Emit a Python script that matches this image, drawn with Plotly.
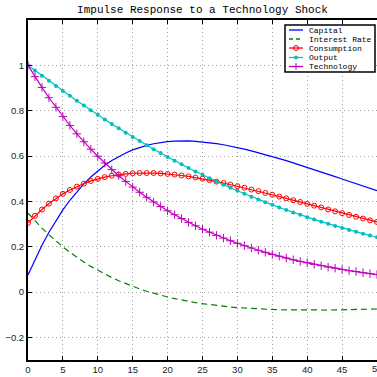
import plotly.graph_objects as go

periods = list(range(51))

capital = [0.075, 0.1436, 0.2063, 0.2634, 0.3152, 0.3622, 0.4047, 0.4429, 0.4772, 0.5077,
           0.5349, 0.5588, 0.5798, 0.5980, 0.6136, 0.6269, 0.6380, 0.6470, 0.6541, 0.6595,
           0.6633, 0.6657, 0.6666, 0.6664, 0.6649, 0.6625, 0.6590, 0.6548, 0.6497, 0.6439,
           0.6374, 0.6304, 0.6229, 0.6149, 0.6065, 0.5977, 0.5886, 0.5793, 0.5697, 0.5599,
           0.5499, 0.5398, 0.5296, 0.5194, 0.5090, 0.4987, 0.4883, 0.4779, 0.4676, 0.4573,
           0.4471]

interest_rate = [0.348, 0.3139, 0.2821, 0.2524, 0.2248, 0.1991, 0.1751, 0.1529, 0.1322, 0.1130,
                 0.0953, 0.0788, 0.0636, 0.0495, 0.0365, 0.0246, 0.0135, 0.0034, -0.0059, -0.0143,
                 -0.0221, -0.0292, -0.0357, -0.0415, -0.0468, -0.0515, -0.0559, -0.0597, -0.0631, -0.0661,
                 -0.0687, -0.0710, -0.0730, -0.0747, -0.0761, -0.0773, -0.0782, -0.0789, -0.0795, -0.0798,
                 -0.0800, -0.0800, -0.0799, -0.0796, -0.0792, -0.0788, -0.0782, -0.0775, -0.0768, -0.0760,
                 -0.0751]

consumption = [0.305, 0.336, 0.364, 0.390, 0.413, 0.433, 0.450, 0.465, 0.478, 0.490,
               0.499, 0.507, 0.513, 0.518, 0.521, 0.524, 0.525, 0.525, 0.525, 0.523,
               0.521, 0.518, 0.514, 0.510, 0.505, 0.500, 0.494, 0.487, 0.481, 0.474,
               0.467, 0.460, 0.452, 0.445, 0.437, 0.429, 0.421, 0.413, 0.405, 0.397,
               0.389, 0.381, 0.373, 0.364, 0.356, 0.348, 0.340, 0.332, 0.324, 0.316,
               0.309]

output = [1.0, 0.977, 0.9542, 0.9317, 0.9093, 0.8873, 0.8655, 0.8440, 0.8228, 0.8020,
          0.7815, 0.7614, 0.7416, 0.7220, 0.7030, 0.6842, 0.6658, 0.6478, 0.6301, 0.6129,
          0.5959, 0.5794, 0.5632, 0.5474, 0.5319, 0.5168, 0.5020, 0.4875, 0.4735, 0.4598,
          0.4464, 0.4334, 0.4206, 0.4082, 0.3962, 0.3844, 0.3730, 0.3618, 0.3509, 0.3404,
          0.3301, 0.3201, 0.3103, 0.3009, 0.2917, 0.2826, 0.2740, 0.2655, 0.2573, 0.2493,
          0.2415]

technology = [1.000, 0.950, 0.9025, 0.857, 0.815, 0.774, 0.735, 0.698, 0.663, 0.630,
              0.599, 0.569, 0.540, 0.513, 0.488, 0.463, 0.440, 0.418, 0.397, 0.377,
              0.358, 0.341, 0.324, 0.307, 0.292, 0.277, 0.264, 0.250, 0.238, 0.226,
              0.215, 0.204, 0.194, 0.184, 0.175, 0.166, 0.158, 0.150, 0.142, 0.135,
              0.129, 0.122, 0.116, 0.110, 0.105, 0.099, 0.094, 0.090, 0.085, 0.081,
              0.077]

x_ticks = list(range(0, 51, 5))
y_ticks = [-0.2, 0, 0.2, 0.4, 0.6, 0.8, 1]
y_tick_labels = ["\u22120.2", "0", "0.2", "0.4", "0.6", "0.8", "1"]

series_names = ["Capital", "Interest Rate", "Consumption", "Output", "Technology"]
BLUE = "#0000ff"
GREEN = "#008000"
RED = "#ff0000"
CYAN = "#00bfbf"
MAGENTA = "#bf00bf"

W, H = 377, 377
ML, MR, MT, MB = 28, 0, 20, 17
PW, PH = W - ML - MR, H - MT - MB
TICK_FONT = dict(family="Liberation Sans, Arial, sans-serif", size=9.5, color="#222222")


def px(x):
    return (x - ML) / PW


def py(y):
    return (H - MB - y) / PH


fig = go.Figure()
fig.add_trace(go.Scatter(x=periods, y=capital, mode="lines", name=series_names[0],
                         line=dict(color=BLUE, width=1.2)))
fig.add_trace(go.Scatter(x=periods, y=interest_rate, mode="lines", name=series_names[1],
                         line=dict(color=GREEN, width=1.2, dash="6px,4px")))
fig.add_trace(go.Scatter(x=periods, y=consumption, mode="lines+markers", name=series_names[2],
                         line=dict(color=RED, width=1.2),
                         marker=dict(symbol="circle-open", size=5, color=RED, line=dict(width=1, color=RED))))
fig.add_trace(go.Scatter(x=periods, y=output, mode="lines+markers", name=series_names[3],
                         line=dict(color=CYAN, width=1.2),
                         marker=dict(symbol="circle", size=4, color=CYAN)))
fig.add_trace(go.Scatter(x=periods, y=technology, mode="lines+markers", name=series_names[4],
                         line=dict(color=MAGENTA, width=1.2),
                         marker=dict(symbol="cross-thin-open", size=6, color=MAGENTA,
                                     line=dict(width=1, color=MAGENTA))))

# Manual legend (MATLAB style)
shapes = [dict(type="rect", xref="paper", yref="paper", x0=px(285), x1=px(375), y0=py(72), y1=py(25),
               line=dict(color="black", width=1.5), fillcolor="white", layer="above")]
annotations = []
rows = [30, 39, 48, 57.5, 66.5]
colors = [BLUE, GREEN, RED, CYAN, MAGENTA]
for i, (name, c, ry) in enumerate(zip(series_names, colors, rows)):
    shapes.append(dict(type="line", xref="paper", yref="paper", x0=px(289), x1=px(303), y0=py(ry), y1=py(ry),
                       line=dict(color=c, width=1.3, dash="4px,3px" if i == 1 else "solid"), layer="above"))
    if i == 2:
        shapes.append(dict(type="circle", xref="paper", yref="paper", x0=px(293.5), x1=px(298.5),
                           y0=py(ry + 2.5), y1=py(ry - 2.5), line=dict(color=c, width=1), layer="above"))
    if i == 3:
        shapes.append(dict(type="circle", xref="paper", yref="paper", x0=px(294.5), x1=px(297.5),
                           y0=py(ry + 1.5), y1=py(ry - 1.5), line=dict(color=c, width=1), fillcolor=c,
                           layer="above"))
    if i == 4:
        shapes.append(dict(type="line", xref="paper", yref="paper", x0=px(296), x1=px(296),
                           y0=py(ry + 3.5), y1=py(ry - 3.5), line=dict(color=c, width=1), layer="above"))
    annotations.append(dict(xref="paper", yref="paper", x=px(307), y=py(ry), text=name, showarrow=False,
                            xanchor="left", yanchor="middle",
                            font=dict(family="Liberation Mono, Courier New, monospace", size=8, color="black")))

# last x tick label (cut by the window edge, as in the original)
annotations.append(dict(xref="x", yref="paper", x=x_ticks[-1], y=py(369), text=str(x_ticks[-1]),
                        showarrow=False, xanchor="center", yanchor="middle", font=TICK_FONT))

axis_common = dict(ticks="inside", ticklen=4, tickcolor="black", showline=True, linecolor="black",
                   linewidth=2, showgrid=True, gridcolor="#a0a0a0", griddash="1px,3px", gridwidth=1,
                   zeroline=False, tickfont=TICK_FONT)

fig.update_layout(
    width=W, height=H, autosize=False,
    margin=dict(l=ML, r=MR, t=MT, b=MB, pad=0),
    paper_bgcolor="white", plot_bgcolor="white",
    showlegend=False,
    title=dict(text="Impulse Response to a Technology Shock", x=0.5, xref="paper", xanchor="center",
               y=1 - 9.5 / H, yref="container", yanchor="middle",
               font=dict(family="Liberation Mono, Courier New, monospace", size=11, color="black")),
    shapes=shapes, annotations=annotations,
    xaxis=dict(range=[0, 50], tickvals=x_ticks, mirror="ticks", **axis_common),
    yaxis=dict(range=[-0.3, 1.2], tickvals=y_ticks, ticktext=y_tick_labels, mirror=False, **axis_common),
)

fig.write_html("out.html")
